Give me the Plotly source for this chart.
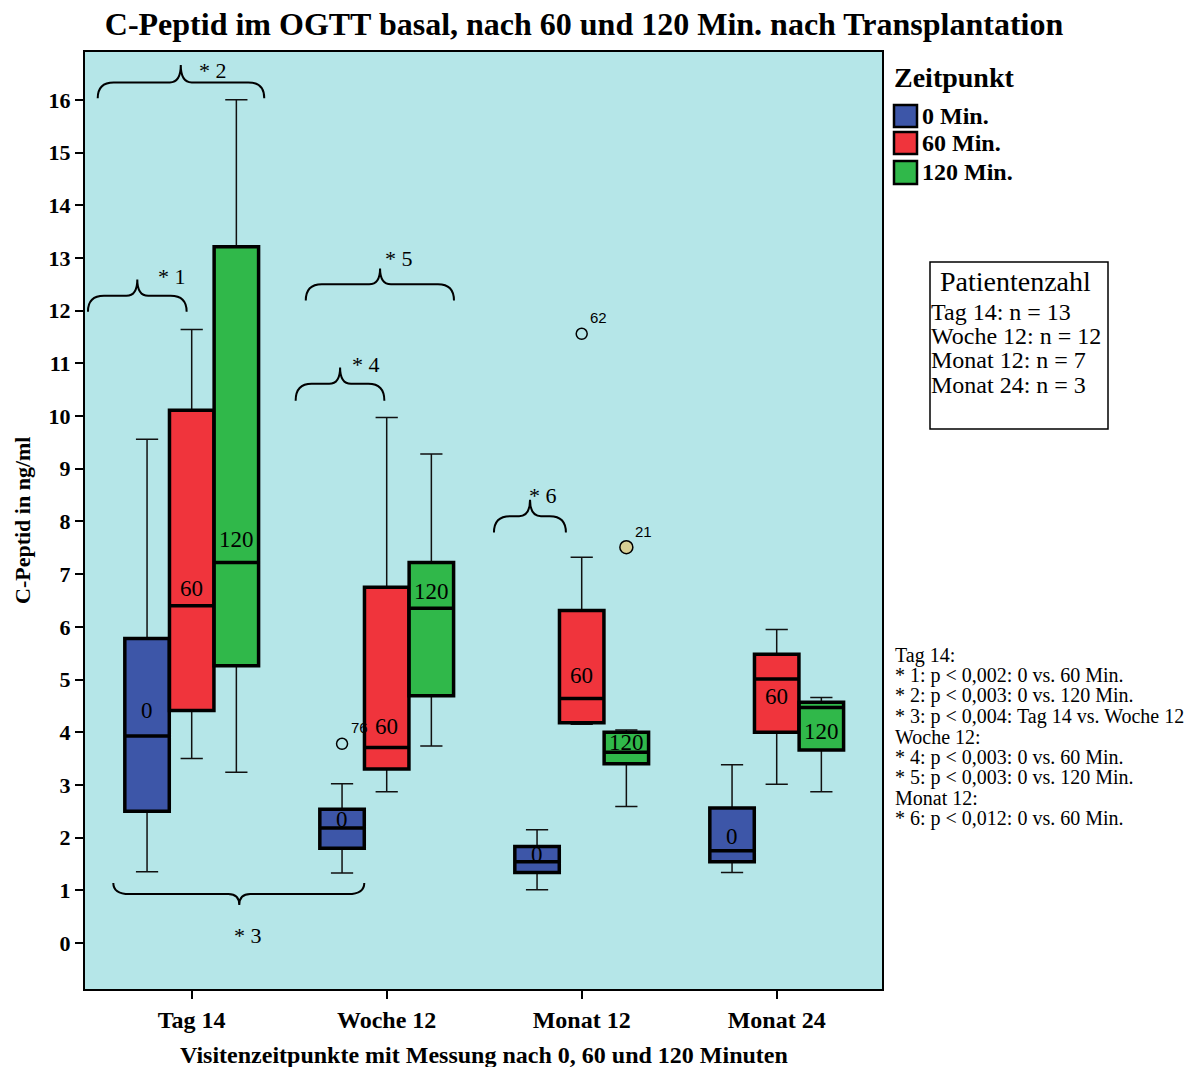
import plotly.graph_objects as go

# ---------------- data ----------------
categories = ["Tag 14", "Woche 12", "Monat 12", "Monat 24"]
series_names = ["0 Min.", "60 Min.", "120 Min."]
box_texts = ["0", "60", "120"]

lower_0 = [1.35, 1.33, 1.01, 1.34]
q1_0 = [2.50, 1.80, 1.34, 1.54]
median_0 = [3.93, 2.18, 1.54, 1.75]
q3_0 = [5.78, 2.54, 1.83, 2.56]
upper_0 = [9.56, 3.02, 2.15, 3.38]

lower_60 = [3.50, 2.87, 4.15, 3.01]
q1_60 = [4.41, 3.30, 4.18, 4.00]
median_60 = [6.40, 3.71, 4.64, 5.01]
q3_60 = [10.11, 6.75, 6.31, 5.48]
upper_60 = [11.64, 9.97, 7.32, 5.95]

lower_120 = [3.24, 3.74, 2.59, 2.87]
q1_120 = [5.26, 4.69, 3.40, 3.66]
median_120 = [7.22, 6.35, 3.62, 4.47]
q3_120 = [13.21, 7.22, 4.00, 4.57]
upper_120 = [16.00, 9.28, 4.04, 4.66]

# heights (value units) where the "0 / 60 / 120" labels sit inside boxes
label_y_0 = [4.42, 2.35, 1.67, 2.03]
label_y_60 = [6.73, 4.10, 5.07, 4.67]
label_y_120 = [7.66, 6.67, 3.80, 4.01]

outlier_cat = [1, 2, 2]
outlier_series = [0, 1, 2]
outlier_value = [3.78, 11.56, 7.51]
outlier_id = ["76", "62", "21"]
outlier_filled = [False, False, True]

y_ticks = list(range(0, 17))

patient_title = "Patientenzahl"
patient_lines = ["Tag 14: n = 13", "Woche 12: n = 12", "Monat 12: n = 7", "Monat 24: n = 3"]

footnote_lines = [
    "Tag 14:",
    "* 1: p < 0,002: 0 vs. 60 Min.",
    "* 2: p < 0,003: 0 vs. 120 Min.",
    "* 3: p < 0,004: Tag 14 vs. Woche 12",
    "Woche 12:",
    "* 4: p < 0,003: 0 vs. 60 Min.",
    "* 5: p < 0,003: 0 vs. 120 Min.",
    "Monat 12:",
    "* 6: p < 0,012: 0 vs. 60 Min.",
]

# significance braces: (x_left, x_tip, x_right, y_end, y_bar, y_tip, label, label_x, label_y)
braces = [
    (-0.532, -0.279, -0.026, 11.98, 12.28, 12.59, "* 1", -0.103, 12.64),
    (-0.482, -0.056, 0.372, 16.03, 16.33, 16.66, "* 2", 0.111, 16.55),
    (-0.402, 0.244, 0.885, 1.14, 0.93, 0.72, "* 3", 0.290, 0.14),
    (0.533, 0.761, 0.988, 10.29, 10.61, 10.92, "* 4", 0.892, 10.98),
    (0.585, 0.966, 1.345, 12.19, 12.50, 12.80, "* 5", 1.065, 12.99),
    (1.550, 1.735, 1.919, 7.79, 8.10, 8.41, "* 6", 1.803, 8.50),
]

# ---------------- style ----------------
SERIF = "Liberation Serif"
SANS = "Liberation Sans"
colors = ["#3d56a8", "#f0343c", "#30b84a"]
outlier_fill = "#d8cf95"
bg = "#b5e6e8"
offsets = [-0.229, 0.0, 0.229]
box_w = 0.228

lowers = [lower_0, lower_60, lower_120]
q1s = [q1_0, q1_60, q1_120]
meds = [median_0, median_60, median_120]
q3s = [q3_0, q3_60, q3_120]
uppers = [upper_0, upper_60, upper_120]
label_ys = [label_y_0, label_y_60, label_y_120]

W, H = 1194, 1067
L, R, T, B = 85, 882, 52, 989


def px(x):
    return (x - L) / (R - L)


def py(y):
    return (B - y) / (B - T)


fig = go.Figure()

for s in range(3):
    xs = [i + offsets[s] for i in range(len(categories))]
    # whiskers (thin)
    fig.add_trace(go.Box(
        x=xs, q1=q1s[s], median=meds[s], q3=q3s[s],
        lowerfence=lowers[s], upperfence=uppers[s],
        width=box_w, whiskerwidth=0.5, boxpoints=False,
        line=dict(color="#111111", width=1.5),
        fillcolor="rgba(0,0,0,0)", showlegend=False, hoverinfo="skip",
    ))
    # boxes (thick outline, filled)
    fig.add_trace(go.Box(
        x=xs, q1=q1s[s], median=meds[s], q3=q3s[s],
        lowerfence=q1s[s], upperfence=q3s[s],
        width=box_w, whiskerwidth=0, boxpoints=False,
        line=dict(color="black", width=3.5),
        fillcolor=colors[s], name=series_names[s], showlegend=False, hoverinfo="skip",
    ))

# outliers
for k in range(len(outlier_value)):
    xo = outlier_cat[k] + offsets[outlier_series[k]]
    filled = outlier_filled[k]
    fig.add_trace(go.Scatter(
        x=[xo], y=[outlier_value[k]], mode="markers",
        marker=dict(symbol="circle" if filled else "circle-open",
                    size=13 if filled else 11,
                    color=outlier_fill if filled else "black",
                    line=dict(color="black", width=1.5)),
        showlegend=False, hoverinfo="skip",
    ))

annotations = []
shapes = []

# outlier ids
for k in range(len(outlier_value)):
    xo = outlier_cat[k] + offsets[outlier_series[k]]
    annotations.append(dict(
        x=xo, y=outlier_value[k], xref="x", yref="y", text=outlier_id[k],
        showarrow=False, xshift=17, yshift=16,
        font=dict(family=SANS, size=15, color="black"),
    ))

# box labels
for s in range(3):
    for i in range(len(categories)):
        annotations.append(dict(
            x=i + offsets[s], y=label_ys[s][i], xref="x", yref="y",
            text=box_texts[s], showarrow=False,
            font=dict(family=SERIF, size=23, color="black"),
        ))

# braces
for (x0, xm, x1, yb, yh, yt, lab, lx, ly) in braces:
    dx, dt = 0.082, 0.056
    path = (f"M {x0},{yb} Q {x0},{yh} {x0 + dx},{yh} L {xm - dt},{yh} Q {xm},{yh} {xm},{yt} "
            f"Q {xm},{yh} {xm + dt},{yh} L {x1 - dx},{yh} Q {x1},{yh} {x1},{yb}")
    shapes.append(dict(type="path", path=path, xref="x", yref="y",
                       line=dict(color="black", width=2), fillcolor="rgba(0,0,0,0)"))
    annotations.append(dict(x=lx, y=ly, xref="x", yref="y", text=lab, showarrow=False,
                            font=dict(family=SERIF, size=22, color="black")))

# custom legend
annotations.append(dict(x=px(892), y=py(78), xref="paper", yref="paper", text="Zeitpunkt",
                        showarrow=False, xanchor="left", yanchor="middle",
                        font=dict(family=SERIF, size=28, color="black", weight="bold")))
leg_y = [(105, 127), (132, 154), (161, 184)]
for s in range(3):
    y0, y1 = leg_y[s]
    shapes.append(dict(type="rect", xref="paper", yref="paper",
                       x0=px(894), x1=px(917), y0=py(y1), y1=py(y0),
                       line=dict(color="black", width=2.5), fillcolor=colors[s]))
    annotations.append(dict(x=px(920), y=py((y0 + y1) / 2), xref="paper", yref="paper",
                            text=series_names[s], showarrow=False, xanchor="left", yanchor="middle",
                            font=dict(family=SERIF, size=24, color="black", weight="bold")))

# patient count box
shapes.append(dict(type="rect", xref="paper", yref="paper",
                   x0=px(930), x1=px(1108), y0=py(429), y1=py(262),
                   line=dict(color="black", width=1.5), fillcolor="white"))
annotations.append(dict(x=px(1016), y=py(281), xref="paper", yref="paper", text=patient_title,
                        showarrow=False, xanchor="center", yanchor="middle",
                        font=dict(family=SERIF, size=28, color="black")))
for j, line in enumerate(patient_lines):
    annotations.append(dict(x=px(929), y=py(311.5 + 24.5 * j), xref="paper", yref="paper",
                            text=line, showarrow=False, xanchor="left", yanchor="middle",
                            font=dict(family=SERIF, size=24, color="black")))

# footnotes
for j, line in enumerate(footnote_lines):
    annotations.append(dict(x=px(893), y=py(655 + 20.4 * j), xref="paper", yref="paper",
                            text=line, showarrow=False, xanchor="left", yanchor="middle",
                            font=dict(family=SERIF, size=20, color="black")))

# axis titles
annotations.append(dict(x=px(22), y=py(521), xref="paper", yref="paper",
                        text="C-Peptid in ng/ml", showarrow=False, textangle=-90,
                        xanchor="center", yanchor="middle",
                        font=dict(family=SERIF, size=22, color="black", weight="bold")))
annotations.append(dict(x=px(484), y=py(1055), xref="paper", yref="paper",
                        text="Visitenzeitpunkte mit Messung nach 0, 60 und 120 Minuten",
                        showarrow=False, xanchor="center", yanchor="middle",
                        font=dict(family=SERIF, size=24, color="black", weight="bold")))

x_lo = (L - 191.7) / 195
x_hi = (R - 191.7) / 195
y_lo = (943 - B) / 52.7
y_hi = (943 - T) / 52.7

fig.update_layout(
    width=W, height=H,
    margin=dict(l=L, r=W - R, t=T, b=H - B),
    plot_bgcolor=bg, paper_bgcolor="white",
    showlegend=False, boxmode="overlay",
    title=dict(text="C-Peptid im OGTT basal, nach 60 und 120 Min. nach Transplantation",
               x=584 / W, xanchor="center", y=1 - 24 / H, yanchor="middle", yref="container",
               font=dict(family=SERIF, size=32, color="black", weight="bold")),
    xaxis=dict(range=[x_lo, x_hi], tickvals=list(range(len(categories))), ticktext=categories,
               ticks="outside", ticklen=8, tickwidth=1.5, tickcolor="black",
               showline=True, mirror=True, linecolor="black", linewidth=2,
               showgrid=False, zeroline=False,
               tickfont=dict(family=SERIF, size=24, color="black", weight="bold")),
    yaxis=dict(range=[y_lo, y_hi], tickvals=y_ticks,
               ticks="outside", ticklen=8, tickwidth=1.5, tickcolor="black",
               showline=True, mirror=True, linecolor="black", linewidth=2,
               showgrid=False, zeroline=False,
               tickfont=dict(family=SERIF, size=22, color="black", weight="bold")),
    annotations=annotations, shapes=shapes,
)

fig.write_html("out.html")
